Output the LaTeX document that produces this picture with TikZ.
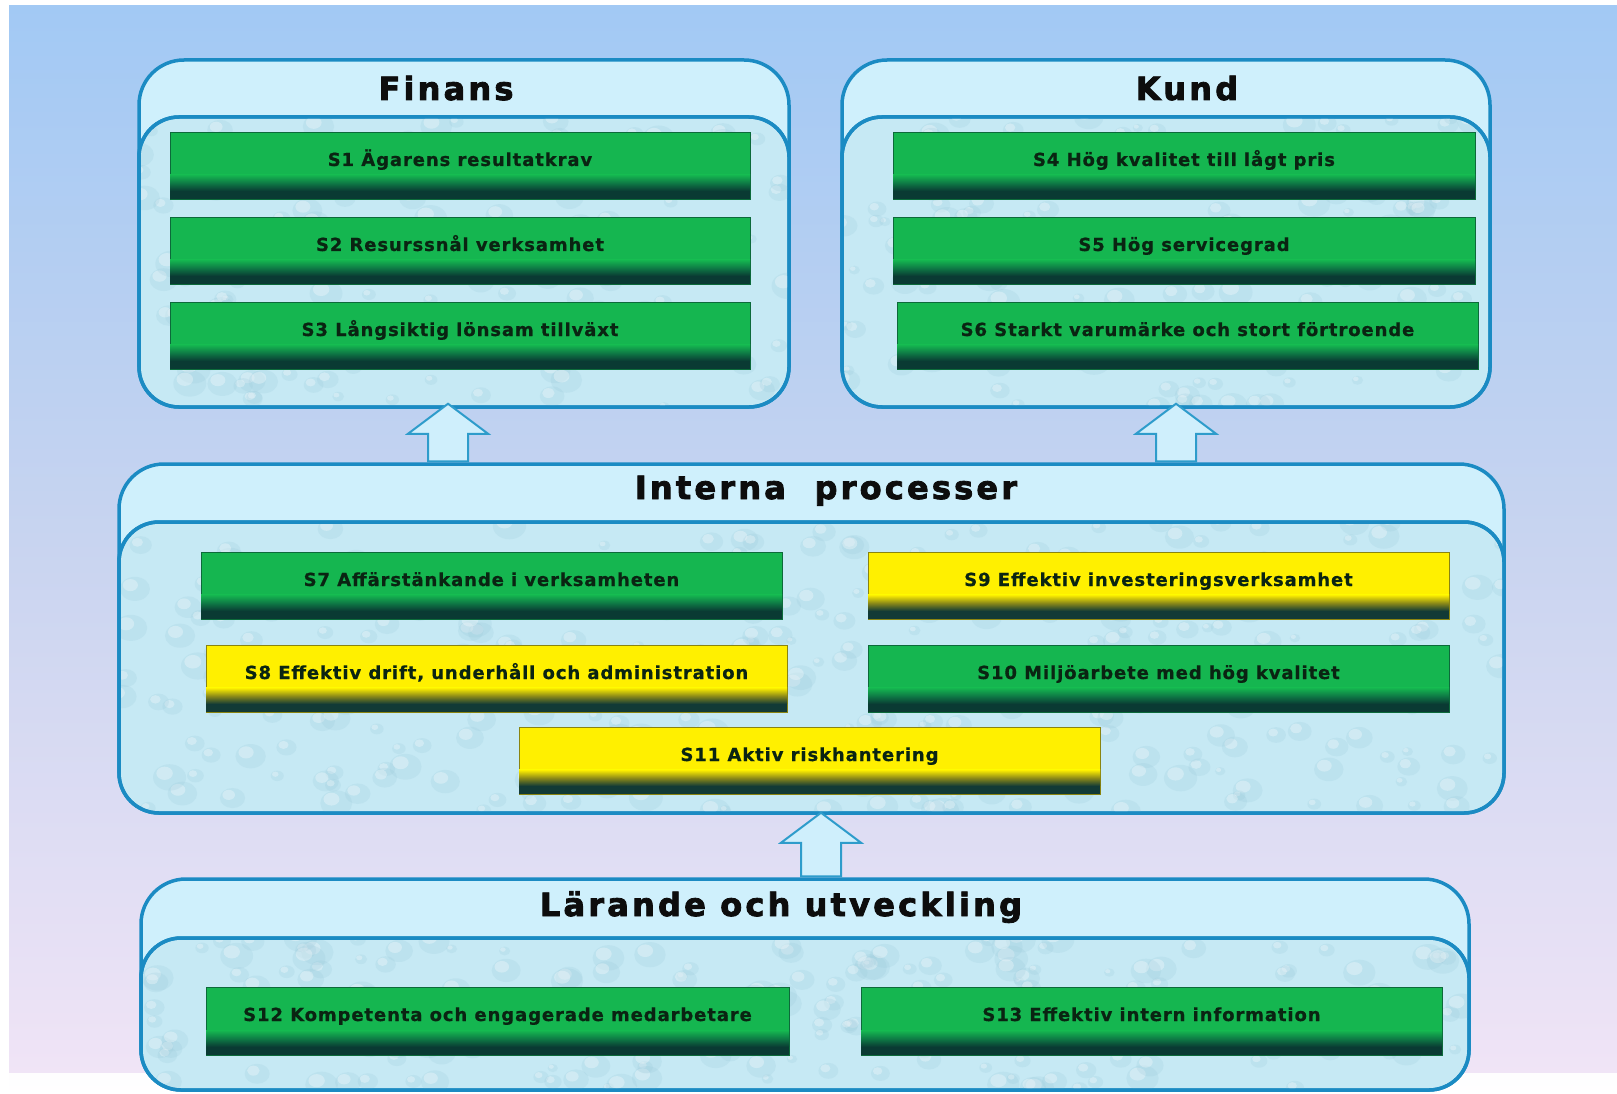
\documentclass[tikz,border=0pt]{standalone}
\usepackage{fontspec}
\setmainfont{DejaVu Sans}
\newfontfamily\titlefont{DejaVu Sans}[LetterSpace=10,FakeBold=2.6]
\newfontfamily\barfont{DejaVu Sans}[LetterSpace=5,FakeBold=0.7]
\usetikzlibrary{calc,fit}
\definecolor{bgtop}{HTML}{A2C9F4}
\definecolor{bgmid}{HTML}{C8D4F0}
\definecolor{bgbot}{HTML}{F0E4F6}
\definecolor{header}{HTML}{CFF0FC}
\definecolor{innerfill}{HTML}{C6E9F4}
\definecolor{panelborder}{HTML}{1B8BC3}
\definecolor{arrowfill}{HTML}{CFEFFC}
\definecolor{arrowborder}{HTML}{2E9CCB}
\definecolor{dropc}{HTML}{9CCADB}
\definecolor{gface}{HTML}{15B650}
\definecolor{gedge}{HTML}{0C6A3A}
\definecolor{gmid}{HTML}{0E7A45}
\definecolor{gdark}{HTML}{0A3A33}
\definecolor{yface}{HTML}{FFF000}
\definecolor{yedge}{HTML}{8A8410}
\definecolor{ymid}{HTML}{8C8A18}
\definecolor{ydark}{HTML}{123A36}
\definecolor{bartextc}{HTML}{0A2412}
\tikzset{
  outerbox/.style={draw=panelborder, line width=3.5pt, fill=header, rounded corners=45pt, inner sep=0pt},
  innerbox/.style={draw=panelborder, line width=3.5pt, fill=innerfill, rounded corners=40pt, inner sep=0pt},
  innerline/.style={draw=panelborder, line width=3.5pt, rounded corners=40pt},
  bigarrow/.style={draw=arrowborder, line width=2pt, fill=arrowfill, line join=miter},
  titletext/.style={font=\titlefont\bfseries\fontsize{32}{36}\selectfont, text=black!95, anchor=base, inner sep=0pt},
  bartext/.style={font=\barfont\bfseries\fontsize{18}{20}\selectfont, text=bartextc, anchor=base, inner sep=0pt},
}
\newcommand\drops[5]{%
  \begin{scope}
    \clip[rounded corners=40pt] (#1,#2) rectangle (#3,#4);
    \foreach \k in {1,...,#5}{%
      \pgfmathsetmacro\px{#1+rnd*(#3-#1)}%
      \pgfmathsetmacro\py{#2+rnd*(#4-#2)}%
      \pgfmathsetmacro\pr{5+rnd*12}%
      \fill[dropc, opacity=.22] (\px,\py) ellipse [x radius=\pr, y radius=0.8*\pr];
      \fill[white, opacity=.30] (\px-0.3*\pr,\py-0.25*\pr) ellipse [x radius=0.5*\pr, y radius=0.4*\pr];
    }
  \end{scope}}
\newcommand\sbar[7]{%
  \coordinate (#1-a) at (#2,#3);
  \coordinate (#1-b) at (#4,#5);
  \node[fit=(#1-a)(#1-b), inner sep=0pt, outer sep=0pt, fill=#6face, draw=#6edge, line width=.8pt] (#1) {};
  \shade[top color=#6face, bottom color=#6dark, middle color=#6mid] (#2,{#3+0.64*(#5-#3)}) rectangle (#4,{#3+0.88*(#5-#3)});
  \fill[#6dark] (#2,{#3+0.88*(#5-#3)}) rectangle (#4,#5);
  \node[bartext] (#1-t) at ({(#2+#4)/2},{#3+34}) {#7};
}
\begin{document}
\begin{tikzpicture}[x=1pt,y=-1pt]
\useasboundingbox (0,0) rectangle (1617,1094);
\fill[white] (0,0) rectangle (1617,1094);
\shade[top color=bgtop, bottom color=bgbot, middle color=bgmid] (9,6) rectangle (1617,1073);
\shade[top color=white!92!bgbot, bottom color=white] (9,1073) rectangle (1617,1094);
\pgfmathsetseed{7}

% ---------- Finans ----------
\coordinate (fa) at (139,60); \coordinate (fb) at (789,407); \coordinate (fc) at (139,117);
\node[outerbox, fit=(fa)(fb)] (finans) {};
\node[innerbox, fit=(fc)(fb)] (finansin) {};
\drops{139}{117}{789}{407}{160}
\draw[innerline] (139,117) rectangle (789,407);
\node[titletext] (tfinans) at (446,100) {Finans};

% ---------- Kund ----------
\coordinate (ka) at (842,60); \coordinate (kb) at (1490,407); \coordinate (kc) at (842,117);
\node[outerbox, fit=(ka)(kb)] (kund) {};
\node[innerbox, fit=(kc)(kb)] (kundin) {};
\drops{842}{117}{1490}{407}{160}
\draw[innerline] (842,117) rectangle (1490,407);
\node[titletext] (tkund) at (1187,100) {Kund};

% ---------- Interna processer ----------
\coordinate (ia) at (119,464); \coordinate (ib) at (1504,813); \coordinate (ic) at (119,522);
\node[outerbox, fit=(ia)(ib)] (interna) {};
\node[innerbox, fit=(ic)(ib)] (internain) {};
\drops{119}{522}{1504}{813}{320}
\draw[innerline] (119,522) rectangle (1504,813);
\node[titletext] (tinterna) at (826,499) {Interna\ \ processer};

% ---------- Lärande och utveckling ----------
\coordinate (la) at (141,879); \coordinate (lb) at (1469,1090); \coordinate (lc) at (141,938);
\node[outerbox, fit=(la)(lb)] (larande) {};
\node[innerbox, fit=(lc)(lb)] (larandein) {};
\drops{141}{938}{1469}{1090}{200}
\draw[innerline] (141,938) rectangle (1469,1090);
\node[titletext] (tlarande) at (781,916) {Lärande och utveckling};

% ---------- bars ----------
\sbar{s1}{170}{132}{750}{199}{g}{S1 Ägarens resultatkrav}
\sbar{s2}{170}{217}{750}{284}{g}{S2 Resurssnål verksamhet}
\sbar{s3}{170}{302}{750}{369}{g}{S3 Långsiktig lönsam tillväxt}
\sbar{s4}{893}{132}{1475}{199}{g}{S4 Hög kvalitet till lågt pris}
\sbar{s5}{893}{217}{1475}{284}{g}{S5 Hög servicegrad}
\sbar{s6}{897}{302}{1478}{369}{g}{S6 Starkt varumärke och stort förtroende}
\sbar{s7}{201}{552}{782}{619}{g}{S7 Affärstänkande i verksamheten}
\sbar{s9}{868}{552}{1449}{619}{y}{S9 Effektiv investeringsverksamhet}
\sbar{s8}{206}{645}{787}{712}{y}{S8 Effektiv drift, underhåll och administration}
\sbar{s10}{868}{645}{1449}{712}{g}{S10 Miljöarbete med hög kvalitet}
\sbar{s11}{519}{727}{1100}{794}{y}{S11 Aktiv riskhantering}
\sbar{s12}{206}{987}{789}{1055}{g}{S12 Kompetenta och engagerade medarbetare}
\sbar{s13}{861}{987}{1442}{1055}{g}{S13 Effektiv intern information}

% ---------- arrows ----------
\path (finans.south -| 448,0) ++(0,-5) coordinate (a1tip);
\path (interna.north -| 448,0) coordinate (a1base);
\path (kund.south -| 1176,0) ++(0,-5) coordinate (a2tip);
\path (interna.north -| 1176,0) coordinate (a2base);
\path (interna.south -| 821,0) ++(0,-2) coordinate (a3tip);
\path (larande.north -| 821,0) coordinate (a3base);
\foreach \t/\b in {a1tip/a1base, a2tip/a2base, a3tip/a3base}{
  \draw[bigarrow] (\t) -- ++(40,30) -- ++(-20,0) -- ($(\b)+(20,-1)$) -- ($(\b)+(-20,-1)$) -- ($(\t)+(-20,30)$) -- ++(-20,0) -- cycle;
}
\end{tikzpicture}
\end{document}
